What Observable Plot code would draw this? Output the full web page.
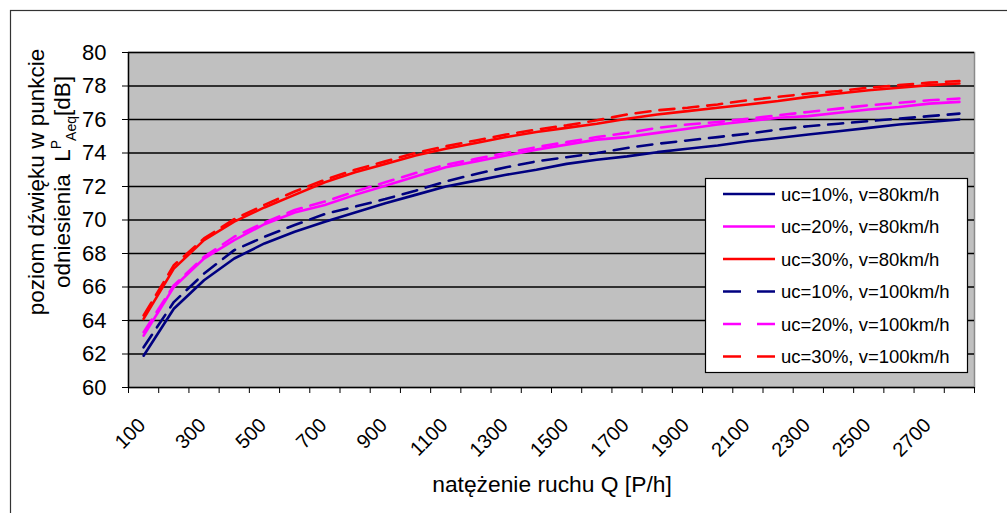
<!DOCTYPE html>
<html><head><meta charset="utf-8">
<script src="https://cdn.jsdelivr.net/npm/d3@7"></script>
<script src="https://cdn.jsdelivr.net/npm/@observablehq/plot@0.6"></script>
<style>
html,body{margin:0;padding:0;background:#fff}
#chart{width:1007px;height:513px;overflow:hidden}
svg{font-family:"Liberation Sans",Arial,sans-serif}
</style>
</head><body><div id="chart"></div>
<script>
// categories (traffic volume Q [P/h])
const Q = [100,200,300,400,500,600,700,800,900,1000,1100,1200,1300,1400,1500,1600,1700,1800,1900,2000,2100,2200,2300,2400,2500,2600,2700,2800];
// category boundaries (axis tick marks) and shown tick labels
const xBounds = [50,150,250,350,450,550,650,750,850,950,1050,1150,1250,1350,1450,1550,1650,1750,1850,1950,2050,2150,2250,2350,2450,2550,2650,2750,2850];
const xLabels = [100,300,500,700,900,1100,1300,1500,1700,1900,2100,2300,2500,2700];
const yTicks = [60,62,64,66,68,70,72,74,76,78,80];

// series values [dB]
const uc10v80  = [61.9,64.7,66.4,67.7,68.6,69.3,69.9,70.45,71.0,71.5,72.0,72.35,72.7,73.0,73.35,73.6,73.8,74.05,74.25,74.45,74.7,74.9,75.1,75.3,75.5,75.7,75.85,76.0];
const uc20v80  = [63.1,66.0,67.7,68.8,69.75,70.45,70.9,71.5,72.05,72.6,73.15,73.5,73.85,74.2,74.5,74.8,74.95,75.2,75.45,75.7,75.9,76.1,76.2,76.4,76.6,76.75,76.95,77.05];
const uc30v80  = [64.1,67.1,68.8,69.9,70.75,71.5,72.25,72.85,73.35,73.85,74.25,74.6,74.95,75.25,75.5,75.75,76.05,76.3,76.5,76.7,76.9,77.1,77.35,77.55,77.75,77.9,78.05,78.15];
const uc10v100 = [62.4,65.1,66.8,68.2,69.0,69.7,70.36,70.8,71.25,71.75,72.3,72.75,73.15,73.5,73.75,74.0,74.3,74.55,74.75,74.95,75.15,75.4,75.6,75.75,75.9,76.05,76.2,76.35];
const uc20v100 = [63.3,66.1,67.8,69.0,69.85,70.6,71.1,71.7,72.25,72.8,73.3,73.65,74.0,74.35,74.65,74.95,75.2,75.5,75.7,75.85,76.05,76.25,76.45,76.65,76.85,77.0,77.15,77.25];
const uc30v100 = [64.3,67.3,68.9,70.05,70.9,71.7,72.4,73.0,73.5,74.0,74.4,74.75,75.1,75.4,75.65,75.95,76.3,76.55,76.7,76.9,77.15,77.35,77.55,77.7,77.9,78.05,78.2,78.3];

const seriesNames  = ["uc=10%, v=80km/h","uc=20%, v=80km/h","uc=30%, v=80km/h","uc=10%, v=100km/h","uc=20%, v=100km/h","uc=30%, v=100km/h"];
const seriesValues = [uc10v80, uc20v80, uc30v80, uc10v100, uc20v100, uc30v100];
const seriesColors = ["#000080","#ff00ff","#ff0000","#000080","#ff00ff","#ff0000"];
const seriesDashed = [false,false,false,true,true,true];

const DASH = "15,9";
const series = seriesNames.map((name, i) => ({
  name, color: seriesColors[i], dashed: seriesDashed[i],
  data: Q.map((q, j) => ({q, v: seriesValues[i][j]}))
}));

const plot = Plot.plot({
  width: 1007, height: 513,
  marginLeft: 128, marginRight: 33, marginTop: 52, marginBottom: 126,
  x: {type: "linear", domain: [50, 2850]},
  y: {domain: [60, 80]},
  style: {fontFamily: "Liberation Sans, Arial, sans-serif", fontSize: "20px", background: "transparent", color: "black"},
  marks: [
    Plot.frame({fill: "#c0c0c0", stroke: "#8a8a8a", strokeWidth: 1.5}),
    Plot.ruleY(yTicks, {stroke: "#000", strokeWidth: 1.4}),
    Plot.ruleX([50], {stroke: "#000", strokeWidth: 1.4}),
    Plot.axisY({ticks: yTicks, tickSize: 6, tickPadding: 16, fontSize: 22, tickFormat: d => String(d), label: null, stroke: "#000"}),
    Plot.axisX({ticks: xBounds, tickSize: 6, tickFormat: () => "", label: null, stroke: "#000"}),
    ...series.map(s => Plot.lineY(s.data, {
      x: "q", y: "v", stroke: s.color, strokeWidth: 2.6,
      strokeDasharray: s.dashed ? DASH : null, curve: "linear"
    })),
    Plot.text(xLabels, {x: d => d, frameAnchor: "bottom", dy: 39, dx: 3, rotate: -45,
      textAnchor: "end", lineAnchor: "bottom", fontSize: 20, text: d => String(d), fill: "#000"})
  ]
});

document.getElementById("chart").appendChild(plot);
const svg = d3.select(plot);
const FONT = "Liberation Sans, Arial, sans-serif";

// outer chart border
svg.append("rect").attr("x", 10.5).attr("y", 10.5).attr("width", 1010).attr("height", 520)
  .attr("fill", "none").attr("stroke", "#333").attr("stroke-width", 1.2);

// x axis title
svg.append("text").attr("x", 552).attr("y", 492).attr("text-anchor", "middle")
  .attr("font-family", FONT).attr("font-size", 22.8).attr("fill", "#000")
  .text("natężenie ruchu Q [P/h]");

// y axis title (two lines)
svg.append("text").attr("transform", "translate(43.5,182) rotate(-90)").attr("text-anchor", "middle")
  .attr("font-family", FONT).attr("font-size", 22.5).attr("fill", "#000")
  .text("poziom dźwięku w punkcie");
const t2 = svg.append("text").attr("transform", "translate(69.5,182) rotate(-90)").attr("text-anchor", "middle")
  .attr("font-family", FONT).attr("font-size", 22.5).attr("fill", "#000").attr("xml:space", "preserve");
t2.append("tspan").text("odniesienia  L");
t2.append("tspan").attr("font-size", 14).attr("dy", -9).text("P");
t2.append("tspan").attr("font-size", 14).attr("dy", 15).text("Aeq");
t2.append("tspan").attr("dy", -6).text("[dB]");

// legend
const lg = svg.append("g");
lg.append("rect").attr("x", 705.5).attr("y", 178.5).attr("width", 262).attr("height", 194)
  .attr("fill", "#fff").attr("stroke", "#000").attr("stroke-width", 1.2);
series.forEach((s, i) => {
  const y = 194 + i * 32.5;
  lg.append("line").attr("x1", 723).attr("x2", 775).attr("y1", y).attr("y2", y)
    .attr("stroke", s.color).attr("stroke-width", 2.6)
    .attr("stroke-dasharray", s.dashed ? "18,16" : null);
  lg.append("text").attr("x", 781).attr("y", y).attr("dy", "0.36em").attr("text-anchor", "start")
    .attr("font-family", FONT).attr("font-size", 18.5).attr("fill", "#000").text(s.name);
});
</script>
</body></html>
